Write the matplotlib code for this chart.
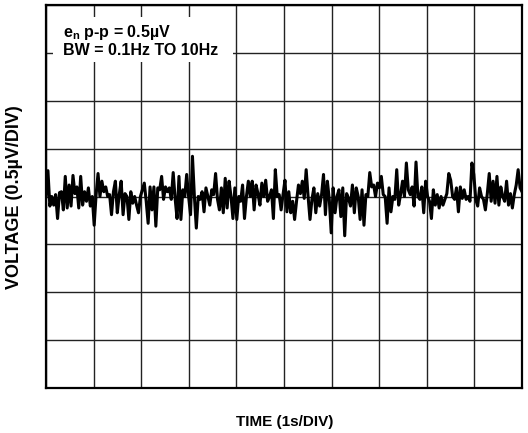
import numpy as np
import matplotlib
matplotlib.use("Agg")
import matplotlib.pyplot as plt
from matplotlib.patches import Rectangle

plt.rcParams['font.family'] = ['Liberation Sans', 'DejaVu Sans']
plt.rcParams['mathtext.fontset'] = 'custom'
plt.rcParams['mathtext.rm'] = 'Liberation Sans:bold'
plt.rcParams['mathtext.bf'] = 'Liberation Sans:bold'
plt.rcParams['mathtext.it'] = 'Liberation Sans:bold'

# Noise trace in microvolts (0.5 µV/DIV), spanning 10 s
noise_uv = [
    0.00, 0.27, -0.10, 0.00, -0.09, 0.02, -0.23, 0.04, 0.05, -0.14,
    0.21, -0.12, 0.12, -0.10, 0.22, 0.03, 0.10, -0.12, 0.21, -0.09,
    0.05, -0.05, 0.09, -0.10, 0.00, -0.30, 0.02, 0.24, 0.00, 0.16,
    0.05, 0.10, 0.00, 0.02, -0.19, 0.05, 0.16, -0.17, 0.02, 0.16,
    -0.19, 0.03, 0.00, -0.24, 0.05, -0.07, 0.00, -0.09, -0.17, 0.00,
    0.07, 0.14, -0.05, -0.28, 0.10, -0.14, 0.10, -0.31, 0.09, 0.07,
    0.21, -0.03, 0.10, 0.05, 0.09, -0.03, 0.25, -0.02, -0.23, 0.21,
    -0.24, 0.07, 0.00, 0.23, 0.00, -0.19, 0.42, 0.00, -0.33, 0.00,
    -0.03, 0.05, -0.16, 0.09, 0.00, -0.09, 0.07, 0.02, 0.24, -0.03,
    -0.14, 0.09, -0.17, 0.19, -0.12, 0.16, 0.00, -0.23, 0.09, -0.24,
    0.00, -0.05, 0.12, -0.23, 0.00, 0.16, 0.00, 0.16, -0.14, 0.12,
    0.03, -0.09, 0.14, 0.00, 0.17, -0.05, 0.00, 0.07, -0.23, 0.28,
    0.00, 0.02, -0.14, 0.02, 0.17, -0.16, 0.05, -0.17,
    -0.05, -0.24, -0.05, 0.12, 0.03, 0.16, -0.02, 0.28, 0.00, -0.24,
    -0.03, 0.09, -0.17, 0.03, -0.10, 0.02, 0.23, -0.19, 0.16, -0.03,
    -0.38, 0.09, -0.17, 0.00, 0.07, -0.21, 0.09, -0.41, 0.03, -0.02,
    -0.10, 0.12, -0.17, 0.09, 0.00, -0.24, 0.07, -0.30, 0.02, 0.00,
    0.25, 0.10, 0.12, 0.00, 0.14, 0.09, 0.21, 0.02, 0.00, -0.28,
    0.09, -0.16, 0.00, -0.03, 0.28, -0.09, 0.02, 0.16, 0.00, 0.35,
    0.07, 0.02, 0.10, -0.10, 0.36, 0.00, -0.03, 0.10, -0.17, 0.16,
    0.00, -0.05, -0.23, 0.07, -0.09, 0.02, -0.12, 0.00, -0.09, -0.03,
    0.03, 0.24, 0.17, 0.00, -0.03, 0.09, -0.16, 0.10, -0.02, 0.07,
    -0.03, 0.00, -0.05, 0.35, 0.23, -0.03, -0.10, 0.09, 0.00, -0.03,
    -0.14, 0.03, 0.24, -0.05, 0.16, -0.07, 0.21, -0.09, 0.10, 0.00,
    -0.05, 0.16, -0.09, 0.03, -0.12, 0.02, 0.12, 0.28, 0.09, 0.05,
]
time_span_s = 10
x_divs = 10
y_divs = 8
volts_per_div = 0.5
label_lines = ["$\\mathbf{e_n}$ p-p = 0.5µV", "BW = 0.1Hz TO 10Hz"]
xlabel = "TIME (1s/DIV)"
ylabel = "VOLTAGE (0.5µV/DIV)"

t = np.linspace(0, time_span_s, len(noise_uv))

fig = plt.figure(figsize=(5.28, 4.33), dpi=100)
ax = fig.add_axes([46/528, 1-388/433, 476/528, 383/433])

ymax = volts_per_div * y_divs / 2
ax.set_xlim(0, time_span_s)
ax.set_ylim(-ymax, ymax)
ax.set_xticks(np.linspace(0, time_span_s, x_divs + 1))
ax.set_yticks(np.linspace(-ymax, ymax, y_divs + 1))
ax.grid(True, color='#222222', linewidth=1.0)
ax.tick_params(length=0, labelbottom=False, labelleft=False)
for s in ax.spines.values():
    s.set_linewidth(1.6)
    s.set_color('black')
    s.set_zorder(5)

ax.plot(t, noise_uv, color='black', linewidth=2.2, zorder=3)

# white box behind the annotation, hiding grid lines
ax.add_patch(Rectangle((0.0147, 0.851), 0.378, 0.118, transform=ax.transAxes,
                       facecolor='white', edgecolor='none', zorder=3.5))
ax.text(0.036, 0.9164, label_lines[0], transform=ax.transAxes,
        fontsize=11.5, fontweight='bold', va='baseline', ha='left', zorder=4)
ax.text(0.036, 0.8695, label_lines[1], transform=ax.transAxes,
        fontsize=11.5, fontweight='bold', va='baseline', ha='left', zorder=4)

fig.text(285/528, 1-422/433, xlabel, fontsize=11, fontweight='bold',
         ha='center', va='center')
fig.text(15/528, 1-197/433, ylabel, fontsize=13, fontweight='bold',
         ha='center', va='center', rotation=90)

fig.savefig("out.png", dpi=100)
